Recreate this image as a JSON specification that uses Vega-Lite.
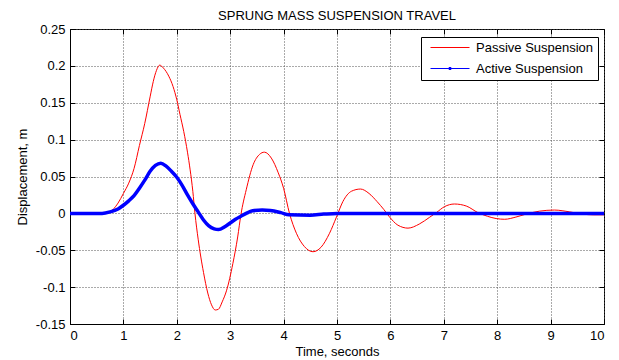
{
  "$schema": "https://vega.github.io/schema/vega-lite/v6.json",
  "width": 534,
  "height": 295,
  "autosize": {"type": "none"},
  "padding": {"left": 70, "top": 29, "right": 15, "bottom": 36},
  "background": "white",
  "title": {"text": "SPRUNG MASS SUSPENSION TRAVEL", "fontSize": 13, "fontWeight": "normal", "font": "Liberation Sans", "color": "black", "offset": 0, "anchor": "middle"},
  "config": {
    "locale": {"number": {"decimal": ".", "thousands": ",", "grouping": [3], "currency": ["$", ""], "minus": "-"}},
    "view": {"stroke": "black", "strokeWidth": 1},
    "font": "Liberation Sans",
    "axis": {
      "labelFont": "Liberation Sans", "labelFontSize": 13, "labelColor": "black",
      "titleFont": "Liberation Sans", "titleFontSize": 13, "titleFontWeight": "normal", "titleColor": "black",
      "domainColor": "black", "tickColor": "black", "tickSize": -5,
      "grid": true, "gridColor": "#555555", "gridDash": [1, 2], "gridWidth": 1
    }
  },
  "data": {"values": [
    {"t": 0, "y": 0, "s": "Passive Suspension"},
    {"t": 0.5, "y": 0, "s": "Passive Suspension"},
    {"t": 0.6, "y": 0, "s": "Passive Suspension"},
    {"t": 0.7, "y": 0.001, "s": "Passive Suspension"},
    {"t": 0.8, "y": 0.005, "s": "Passive Suspension"},
    {"t": 0.9, "y": 0.014, "s": "Passive Suspension"},
    {"t": 1.0, "y": 0.027, "s": "Passive Suspension"},
    {"t": 1.1, "y": 0.041, "s": "Passive Suspension"},
    {"t": 1.2, "y": 0.061, "s": "Passive Suspension"},
    {"t": 1.3, "y": 0.092, "s": "Passive Suspension"},
    {"t": 1.4, "y": 0.122, "s": "Passive Suspension"},
    {"t": 1.5, "y": 0.158, "s": "Passive Suspension"},
    {"t": 1.56, "y": 0.179, "s": "Passive Suspension"},
    {"t": 1.62, "y": 0.194, "s": "Passive Suspension"},
    {"t": 1.68, "y": 0.201, "s": "Passive Suspension"},
    {"t": 1.75, "y": 0.197, "s": "Passive Suspension"},
    {"t": 1.85, "y": 0.186, "s": "Passive Suspension"},
    {"t": 1.93, "y": 0.172, "s": "Passive Suspension"},
    {"t": 2.0, "y": 0.154, "s": "Passive Suspension"},
    {"t": 2.06, "y": 0.134, "s": "Passive Suspension"},
    {"t": 2.13, "y": 0.111, "s": "Passive Suspension"},
    {"t": 2.2, "y": 0.083, "s": "Passive Suspension"},
    {"t": 2.25, "y": 0.059, "s": "Passive Suspension"},
    {"t": 2.3, "y": 0.03, "s": "Passive Suspension"},
    {"t": 2.34, "y": 0.0, "s": "Passive Suspension"},
    {"t": 2.4, "y": -0.035, "s": "Passive Suspension"},
    {"t": 2.5, "y": -0.08, "s": "Passive Suspension"},
    {"t": 2.58, "y": -0.108, "s": "Passive Suspension"},
    {"t": 2.65, "y": -0.124, "s": "Passive Suspension"},
    {"t": 2.72, "y": -0.131, "s": "Passive Suspension"},
    {"t": 2.78, "y": -0.13, "s": "Passive Suspension"},
    {"t": 2.85, "y": -0.12, "s": "Passive Suspension"},
    {"t": 2.93, "y": -0.105, "s": "Passive Suspension"},
    {"t": 3.05, "y": -0.068, "s": "Passive Suspension"},
    {"t": 3.14, "y": -0.032, "s": "Passive Suspension"},
    {"t": 3.2, "y": -0.002, "s": "Passive Suspension"},
    {"t": 3.3, "y": 0.032, "s": "Passive Suspension"},
    {"t": 3.43, "y": 0.066, "s": "Passive Suspension"},
    {"t": 3.55, "y": 0.08, "s": "Passive Suspension"},
    {"t": 3.64, "y": 0.083, "s": "Passive Suspension"},
    {"t": 3.77, "y": 0.075, "s": "Passive Suspension"},
    {"t": 3.9, "y": 0.055, "s": "Passive Suspension"},
    {"t": 4.0, "y": 0.034, "s": "Passive Suspension"},
    {"t": 4.11, "y": 0.0, "s": "Passive Suspension"},
    {"t": 4.24, "y": -0.027, "s": "Passive Suspension"},
    {"t": 4.39, "y": -0.045, "s": "Passive Suspension"},
    {"t": 4.55, "y": -0.052, "s": "Passive Suspension"},
    {"t": 4.7, "y": -0.046, "s": "Passive Suspension"},
    {"t": 4.86, "y": -0.027, "s": "Passive Suspension"},
    {"t": 4.99, "y": -0.005, "s": "Passive Suspension"},
    {"t": 5.11, "y": 0.016, "s": "Passive Suspension"},
    {"t": 5.27, "y": 0.03, "s": "Passive Suspension"},
    {"t": 5.44, "y": 0.033, "s": "Passive Suspension"},
    {"t": 5.6, "y": 0.027, "s": "Passive Suspension"},
    {"t": 5.75, "y": 0.016, "s": "Passive Suspension"},
    {"t": 5.88, "y": 0.005, "s": "Passive Suspension"},
    {"t": 5.98, "y": -0.0045, "s": "Passive Suspension"},
    {"t": 6.14, "y": -0.016, "s": "Passive Suspension"},
    {"t": 6.33, "y": -0.02, "s": "Passive Suspension"},
    {"t": 6.54, "y": -0.0145, "s": "Passive Suspension"},
    {"t": 6.73, "y": -0.0055, "s": "Passive Suspension"},
    {"t": 6.86, "y": 0.001, "s": "Passive Suspension"},
    {"t": 7.01, "y": 0.009, "s": "Passive Suspension"},
    {"t": 7.2, "y": 0.0127, "s": "Passive Suspension"},
    {"t": 7.42, "y": 0.01, "s": "Passive Suspension"},
    {"t": 7.64, "y": 0.001, "s": "Passive Suspension"},
    {"t": 7.82, "y": -0.004, "s": "Passive Suspension"},
    {"t": 7.98, "y": -0.007, "s": "Passive Suspension"},
    {"t": 8.14, "y": -0.008, "s": "Passive Suspension"},
    {"t": 8.35, "y": -0.005, "s": "Passive Suspension"},
    {"t": 8.54, "y": -0.001, "s": "Passive Suspension"},
    {"t": 8.79, "y": 0.003, "s": "Passive Suspension"},
    {"t": 9.07, "y": 0.0045, "s": "Passive Suspension"},
    {"t": 9.36, "y": 0.002, "s": "Passive Suspension"},
    {"t": 9.6, "y": -0.001, "s": "Passive Suspension"},
    {"t": 9.8, "y": -0.002, "s": "Passive Suspension"},
    {"t": 10, "y": -0.002, "s": "Passive Suspension"},
    {"t": 0, "y": 0, "s": "Active Suspension"},
    {"t": 0.6, "y": 0, "s": "Active Suspension"},
    {"t": 0.75, "y": 0.002, "s": "Active Suspension"},
    {"t": 0.9, "y": 0.006, "s": "Active Suspension"},
    {"t": 1.0, "y": 0.011, "s": "Active Suspension"},
    {"t": 1.1, "y": 0.017, "s": "Active Suspension"},
    {"t": 1.2, "y": 0.024, "s": "Active Suspension"},
    {"t": 1.3, "y": 0.034, "s": "Active Suspension"},
    {"t": 1.4, "y": 0.045, "s": "Active Suspension"},
    {"t": 1.5, "y": 0.057, "s": "Active Suspension"},
    {"t": 1.6, "y": 0.065, "s": "Active Suspension"},
    {"t": 1.7, "y": 0.068, "s": "Active Suspension"},
    {"t": 1.8, "y": 0.064, "s": "Active Suspension"},
    {"t": 1.9, "y": 0.057, "s": "Active Suspension"},
    {"t": 2.0, "y": 0.049, "s": "Active Suspension"},
    {"t": 2.1, "y": 0.038, "s": "Active Suspension"},
    {"t": 2.2, "y": 0.025, "s": "Active Suspension"},
    {"t": 2.3, "y": 0.013, "s": "Active Suspension"},
    {"t": 2.4, "y": 0.002, "s": "Active Suspension"},
    {"t": 2.5, "y": -0.009, "s": "Active Suspension"},
    {"t": 2.6, "y": -0.017, "s": "Active Suspension"},
    {"t": 2.7, "y": -0.021, "s": "Active Suspension"},
    {"t": 2.78, "y": -0.022, "s": "Active Suspension"},
    {"t": 2.9, "y": -0.018, "s": "Active Suspension"},
    {"t": 3.0, "y": -0.013, "s": "Active Suspension"},
    {"t": 3.1, "y": -0.008, "s": "Active Suspension"},
    {"t": 3.2, "y": -0.004, "s": "Active Suspension"},
    {"t": 3.3, "y": 0.0, "s": "Active Suspension"},
    {"t": 3.42, "y": 0.0035, "s": "Active Suspension"},
    {"t": 3.6, "y": 0.0045, "s": "Active Suspension"},
    {"t": 3.75, "y": 0.004, "s": "Active Suspension"},
    {"t": 3.95, "y": 0.001, "s": "Active Suspension"},
    {"t": 4.1, "y": -0.002, "s": "Active Suspension"},
    {"t": 4.5, "y": -0.0025, "s": "Active Suspension"},
    {"t": 4.75, "y": -0.001, "s": "Active Suspension"},
    {"t": 5.0, "y": 0, "s": "Active Suspension"},
    {"t": 10, "y": 0, "s": "Active Suspension"}
  ]},
  "layer": [
    {
      "transform": [{"filter": "datum.s == 'Passive Suspension'"}],
      "mark": {"type": "line", "strokeWidth": 1, "interpolate": "monotone"},
      "encoding": {
        "x": {"field": "t", "type": "quantitative", "scale": {"domain": [0, 10], "nice": false}, "axis": {"orient": "bottom", "title": "Time, seconds", "values": [0,1,2,3,4,5,6,7,8,9,10], "format": "~f", "labelPadding": 10, "titleY": 21}},
        "y": {"field": "y", "type": "quantitative", "scale": {"domain": [-0.15, 0.25], "nice": false, "zero": false}, "axis": {"orient": "left", "title": "Displacement, m", "values": [-0.15,-0.1,-0.05,0,0.05,0.1,0.15,0.2,0.25], "format": ".2~f", "labelPadding": 10, "titleX": -41}},
        "color": {"field": "s", "type": "nominal", "sort": ["Passive Suspension", "Active Suspension"], "scale": {"domain": ["Passive Suspension", "Active Suspension"], "range": ["#ff0000", "#0000ff"]},
          "legend": {"title": null, "orient": "none", "legendX": 351, "legendY": 8, "symbolType": "M-0.2,0H7.6", "symbolSize": 100, "symbolStrokeWidth": 1, "symbolFillColor": "transparent", "labelFontSize": 13, "labelFont": "Liberation Sans", "labelColor": "black", "fillColor": "white", "strokeColor": "black", "padding": 4, "rowPadding": 7, "labelOffset": 38,
            "encode": {"symbols": {"update": {"strokeWidth": {"value": 1}, "shape": {"signal": "datum.label == 'Active Suspension' ? 'M-0.2,0H7.6M3.5,-0.2H3.9V0.2H3.5Z' : 'M-0.2,0H7.6'"}}}}}}
      }
    },
    {
      "transform": [{"filter": "datum.s == 'Active Suspension'"}],
      "mark": {"type": "line", "strokeWidth": 3.5, "interpolate": "monotone"},
      "encoding": {
        "x": {"field": "t", "type": "quantitative", "scale": {"domain": [0, 10], "nice": false}, "axis": null},
        "y": {"field": "y", "type": "quantitative", "scale": {"domain": [-0.15, 0.25], "nice": false, "zero": false}, "axis": null},
        "color": {"field": "s", "type": "nominal", "sort": ["Passive Suspension", "Active Suspension"], "scale": {"domain": ["Passive Suspension", "Active Suspension"], "range": ["#ff0000", "#0000ff"]}}
      }
    },
    {
      "mark": {"type": "line", "strokeOpacity": 0},
      "encoding": {
        "x": {"field": "t", "type": "quantitative", "scale": {"domain": [0, 10], "nice": false}, "axis": {"orient": "top", "title": null, "labels": false, "grid": false, "domain": false, "values": [0,1,2,3,4,5,6,7,8,9,10]}},
        "y": {"field": "y", "type": "quantitative", "scale": {"domain": [-0.15, 0.25], "nice": false, "zero": false}, "axis": {"orient": "right", "title": null, "labels": false, "grid": false, "domain": false, "values": [-0.15,-0.1,-0.05,0,0.05,0.1,0.15,0.2,0.25]}},
        "detail": {"field": "s", "type": "nominal"}
      }
    }
  ],
  "resolve": {"axis": {"x": "independent", "y": "independent"}}
}
